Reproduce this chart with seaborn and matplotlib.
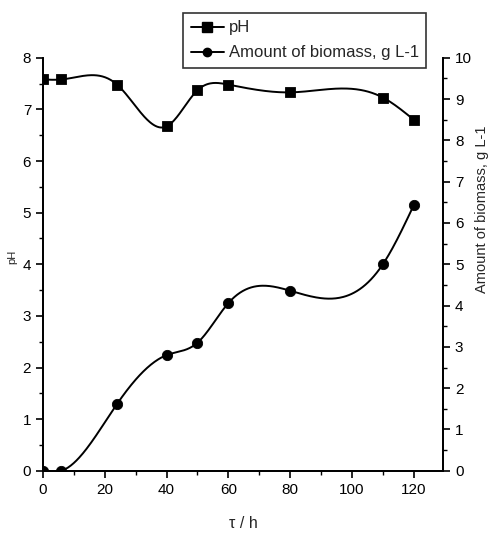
import numpy as np
import pandas as pd
import matplotlib
matplotlib.use("Agg")
import matplotlib.pyplot as plt
import seaborn as sns
from matplotlib.ticker import MultipleLocator

# data
time_h = [0, 6, 24, 40, 50, 60, 80, 110, 120]
ph = [7.58, 7.58, 7.48, 6.67, 7.37, 7.48, 7.33, 7.23, 6.80]
biomass = [0.0, 0.0, 1.62, 2.80, 3.10, 4.06, 4.36, 5.00, 6.43]

df = pd.DataFrame({"t": time_h, "ph": ph, "biomass": biomass})


def spline_curve(x, y, n=400):
    # natural cubic spline, used only to draw the smooth connecting line
    x = np.asarray(x, float)
    y = np.asarray(y, float)
    h = np.diff(x)
    m = len(x)
    A = np.zeros((m, m))
    b = np.zeros(m)
    A[0, 0] = A[-1, -1] = 1
    for i in range(1, m - 1):
        A[i, i - 1] = h[i - 1]
        A[i, i] = 2 * (h[i - 1] + h[i])
        A[i, i + 1] = h[i]
        b[i] = 6 * ((y[i + 1] - y[i]) / h[i] - (y[i] - y[i - 1]) / h[i - 1])
    M = np.linalg.solve(A, b)
    xs = np.linspace(x[0], x[-1], n)
    idx = np.clip(np.searchsorted(x, xs) - 1, 0, m - 2)
    x0, x1 = x[idx], x[idx + 1]
    hh = x1 - x0
    ys = (M[idx] * (x1 - xs) ** 3 / (6 * hh) + M[idx + 1] * (xs - x0) ** 3 / (6 * hh)
          + (y[idx] - M[idx] * hh ** 2 / 6) * (x1 - xs) / hh
          + (y[idx + 1] - M[idx + 1] * hh ** 2 / 6) * (xs - x0) / hh)
    return xs, ys


sns.set_style("ticks")
plt.rcParams["font.family"] = ["Liberation Sans", "DejaVu Sans"]
plt.rcParams["xtick.direction"] = "out"
plt.rcParams["ytick.direction"] = "out"

fig = plt.figure(figsize=(4.88, 5.35), dpi=100)
ax = fig.add_axes([0.088, 0.12, 0.82, 0.772])
ax2 = ax.twinx()

# pH
xs, ys = spline_curve(df["t"], df["ph"])
sns.lineplot(x=xs, y=ys, ax=ax, color="black", linewidth=1.4)
sns.scatterplot(data=df, x="t", y="ph", ax=ax, marker="s", s=55,
                color="black", edgecolor="black", zorder=3)

# biomass
xs, ys = spline_curve(df["t"], df["biomass"])
sns.lineplot(x=xs, y=ys, ax=ax2, color="black", linewidth=1.4)
sns.scatterplot(data=df, x="t", y="biomass", ax=ax2, marker="o", s=55,
                color="black", edgecolor="black", zorder=3)

ax.set_xlim(0, 129.5)
ax.set_ylim(0, 8)
ax2.set_ylim(0, 10)

ax.xaxis.set_major_locator(MultipleLocator(20))
ax.xaxis.set_minor_locator(MultipleLocator(10))
ax.yaxis.set_major_locator(MultipleLocator(1))
ax.yaxis.set_minor_locator(MultipleLocator(0.5))
ax2.yaxis.set_major_locator(MultipleLocator(1))
ax2.yaxis.set_minor_locator(MultipleLocator(0.5))

for a in (ax, ax2):
    a.spines["top"].set_visible(False)
    for s in a.spines.values():
        s.set_linewidth(1.3)
        s.set_color("black")
    a.tick_params(which="major", length=5, width=1.2, labelsize=11, colors="black")
    a.tick_params(which="minor", length=3, width=1.0, colors="black")

ax.set_xlabel("τ / h", fontsize=11.5, labelpad=14)
ax.set_ylabel("pH", fontsize=8)
ax.yaxis.set_label_coords(-0.065, 0.518)
ax2.set_ylabel("Amount of biomass, g L-1", fontsize=10.5)
ax2.yaxis.set_label_coords(1.08, 0.634)

handles = [
    plt.Line2D([], [], color="black", marker="s", markersize=7, linewidth=1.4),
    plt.Line2D([], [], color="black", marker="o", markersize=6, linewidth=1.4),
]
leg = fig.legend(handles, ["pH", "Amount of biomass, g L-1"],
                 loc="upper left", bbox_to_anchor=(0.375, 0.976),
                 borderaxespad=0, fontsize=12, frameon=True, fancybox=False,
                 handlelength=2.0, borderpad=0.45, labelspacing=0.6,
                 handletextpad=0.3)
leg.get_frame().set_edgecolor("black")
leg.get_frame().set_linewidth(1.2)

plt.savefig("out.png", dpi=100)
